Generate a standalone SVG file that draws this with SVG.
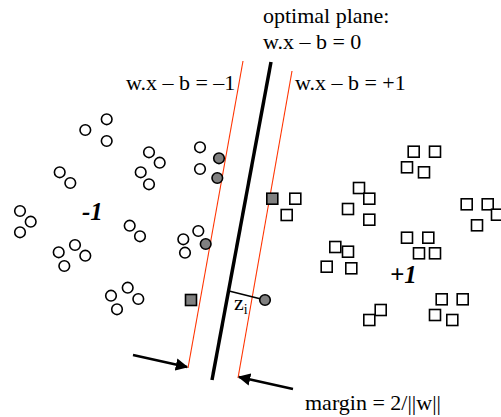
<svg xmlns="http://www.w3.org/2000/svg" width="501" height="417" viewBox="0 0 501 417">
<defs>
<style>
.c{fill:#fff;stroke:#000;stroke-width:1.6}
.g{fill:#808080;stroke:#000;stroke-width:1.6}
.s{fill:#fff;stroke:#000;stroke-width:1.6}
.t{font-family:"Liberation Serif","Times New Roman",serif;font-size:22px;fill:#000}
.lbl{font-family:"Liberation Serif","Times New Roman",serif;font-size:25px;font-weight:bold;font-style:italic;fill:#000}
</style>
<marker id="ah" viewBox="0 0 10 10" refX="9" refY="5" markerWidth="5" markerHeight="5" orient="auto" markerUnits="strokeWidth">
<path d="M0,0 L10,5 L0,10 z" fill="#000"/>
</marker>
</defs>
<rect width="501" height="417" fill="#fff"/>
<g id="connectors">
<line x1="271" y1="62" x2="212" y2="380" stroke="#000" stroke-width="3.5"/>
<line x1="243" y1="61" x2="188" y2="368" stroke="#ff3300" stroke-width="1.1"/>
<line x1="292" y1="71" x2="238" y2="378" stroke="#ff3300" stroke-width="1.1"/>
<line x1="229" y1="291" x2="261" y2="299" stroke="#000" stroke-width="1.5"/>
<line x1="133" y1="355" x2="187" y2="367" stroke="#000" stroke-width="2.5" marker-end="url(#ah)"/>
<line x1="293" y1="389" x2="239" y2="377" stroke="#000" stroke-width="2.5" marker-end="url(#ah)"/>
</g>
<g id="neg-class">
<circle class="c" cx="106.7" cy="119.3" r="5.3"/>
<circle class="c" cx="85.3" cy="130" r="5.3"/>
<circle class="c" cx="106.7" cy="141" r="5.3"/>
<circle class="c" cx="149" cy="152.3" r="5.3"/>
<circle class="c" cx="159.7" cy="162.7" r="5.3"/>
<circle class="c" cx="140.7" cy="172.3" r="5.3"/>
<circle class="c" cx="149" cy="184.3" r="5.3"/>
<circle class="c" cx="59.7" cy="172.3" r="5.3"/>
<circle class="c" cx="70.3" cy="183" r="5.3"/>
<circle class="c" cx="200" cy="147.3" r="5.3"/>
<circle class="c" cx="200" cy="169" r="5.3"/>
<circle class="c" cx="20" cy="211" r="5.3"/>
<circle class="c" cx="30.7" cy="221.7" r="5.3"/>
<circle class="c" cx="20" cy="232.3" r="5.3"/>
<circle class="c" cx="129.7" cy="225.7" r="5.3"/>
<circle class="c" cx="140" cy="236.3" r="5.3"/>
<circle class="c" cx="198.3" cy="231" r="5.3"/>
<circle class="c" cx="183.3" cy="239.3" r="5.3"/>
<circle class="c" cx="185" cy="252.7" r="5.3"/>
<circle class="c" cx="75" cy="245" r="5.3"/>
<circle class="c" cx="58.7" cy="252.3" r="5.3"/>
<circle class="c" cx="85.3" cy="255.7" r="5.3"/>
<circle class="c" cx="64.3" cy="266" r="5.3"/>
<circle class="c" cx="127.7" cy="287.7" r="5.3"/>
<circle class="c" cx="111" cy="295.7" r="5.3"/>
<circle class="c" cx="138.3" cy="299" r="5.3"/>
<circle class="c" cx="117" cy="309.3" r="5.3"/>
<circle class="g" cx="219" cy="158.3" r="5.3"/>
<circle class="g" cx="217.3" cy="178" r="5.3"/>
<circle class="g" cx="205.7" cy="244" r="5.3"/>
<circle class="g" cx="265" cy="300" r="5.3"/>
<text class="lbl" x="82" y="220">-1</text>
</g>
<g id="pos-class">
<rect class="s" x="408.2" y="146.2" width="11" height="11"/>
<rect class="s" x="429.5" y="146.2" width="11" height="11"/>
<rect class="s" x="401.5" y="161.8" width="11" height="11"/>
<rect class="s" x="418.5" y="166.8" width="11" height="11"/>
<rect class="s" x="289.8" y="193.2" width="11" height="11"/>
<rect class="s" x="281.2" y="209.5" width="11" height="11"/>
<rect class="s" x="353.5" y="182.5" width="11" height="11"/>
<rect class="s" x="363.8" y="193.2" width="11" height="11"/>
<rect class="s" x="342.5" y="203.5" width="11" height="11"/>
<rect class="s" x="363.8" y="214.2" width="11" height="11"/>
<rect class="s" x="461.2" y="198.8" width="11" height="11"/>
<rect class="s" x="482.2" y="198.8" width="11" height="11"/>
<rect class="s" x="491.5" y="209.2" width="11" height="11"/>
<rect class="s" x="471.5" y="219.8" width="11" height="11"/>
<rect class="s" x="401.5" y="232.2" width="11" height="11"/>
<rect class="s" x="422.8" y="232.2" width="11" height="11"/>
<rect class="s" x="413.5" y="247.8" width="11" height="11"/>
<rect class="s" x="429.5" y="247.8" width="11" height="11"/>
<rect class="s" x="329.8" y="241.5" width="11" height="11"/>
<rect class="s" x="342.5" y="246.2" width="11" height="11"/>
<rect class="s" x="321.2" y="261.2" width="11" height="11"/>
<rect class="s" x="345.8" y="262.8" width="11" height="11"/>
<rect class="s" x="436.2" y="293.8" width="11" height="11"/>
<rect class="s" x="457.2" y="293.8" width="11" height="11"/>
<rect class="s" x="429.5" y="309.5" width="11" height="11"/>
<rect class="s" x="446.8" y="314.5" width="11" height="11"/>
<rect class="s" x="375.2" y="304.5" width="11" height="11"/>
<rect class="s" x="363.8" y="314.5" width="11" height="11"/>
<rect class="g" x="266.8" y="193.2" width="11" height="11"/>
<rect class="g" x="185.5" y="294.5" width="11" height="11"/>
<text class="lbl" x="390" y="283">+1</text>
</g>
<g id="labels">
<text class="t" x="263" y="23">optimal plane:</text>
<text class="t" x="263" y="49">w.x – b = 0</text>
<text class="t" x="126" y="90">w.x – b = –1</text>
<text class="t" x="295" y="90">w.x – b = +1</text>
<text class="t" x="234" y="310">z<tspan font-size="14" dy="4">i</tspan></text>
<text class="t" x="305" y="410">margin = 2/||w||</text>
</g>
</svg>
